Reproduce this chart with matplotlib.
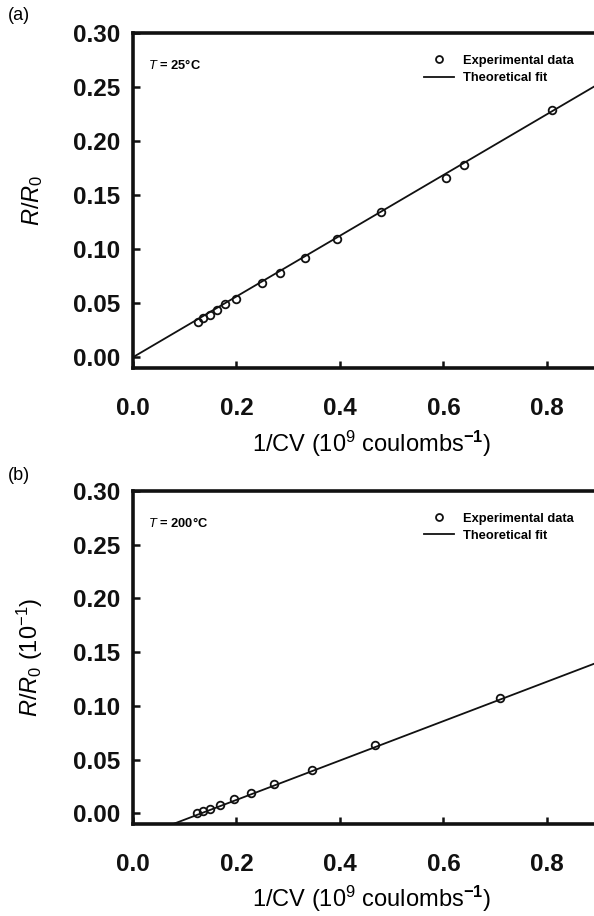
import matplotlib
matplotlib.use("Agg")
import matplotlib.pyplot as plt
from matplotlib.lines import Line2D

plt.rcParams['font.family'] = ['Liberation Sans', 'DejaVu Sans']
plt.rcParams['mathtext.fontset'] = 'custom'
plt.rcParams['mathtext.rm'] = 'Liberation Sans'
plt.rcParams['mathtext.it'] = 'Liberation Sans:italic'
plt.rcParams['mathtext.bf'] = 'Liberation Sans:bold'

# Panel (a): T = 25 °C
x_a = [0.126, 0.136, 0.149, 0.163, 0.178, 0.199, 0.249, 0.284, 0.333, 0.394,
       0.480, 0.605, 0.640, 0.810]
y_a = [0.033, 0.036, 0.039, 0.044, 0.049, 0.054, 0.069, 0.078, 0.092, 0.109,
       0.134, 0.166, 0.178, 0.229]
fit_a_x = [0.0, 0.95]
fit_a_y = [0.0, 0.267]

# Panel (b): T = 200 °C
x_b = [0.123, 0.135, 0.149, 0.168, 0.195, 0.228, 0.273, 0.345, 0.468, 0.710]
y_b = [0.000, 0.002, 0.004, 0.008, 0.013, 0.019, 0.027, 0.040, 0.064, 0.107]
fit_b_x = [0.07, 0.95]
fit_b_y = [-0.0114, 0.1500]

x_ticks = [0.0, 0.2, 0.4, 0.6, 0.8]
y_ticks = [0.00, 0.05, 0.10, 0.15, 0.20, 0.25, 0.30]

W, H = 594, 916
fig = plt.figure(figsize=(W / 100, H / 100), dpi=100)


def make_panel(rect, xs, ys, fx, fy, temp_text, ylabel, tag, tag_y):
    ax = fig.add_axes(rect)
    ax.plot(fx, fy, color='#111111', lw=1.3, zorder=2)
    ax.plot(xs, ys, linestyle='none', marker='o', ms=5.5, mfc='none',
            mec='#111111', mew=1.3, zorder=3)
    ax.set_xlim(0.0, 0.892)
    ax.set_ylim(-0.01, 0.30)
    ax.set_xticks(x_ticks)
    ax.set_yticks(y_ticks)
    ax.set_xticklabels([f"{v:.1f}" for v in x_ticks])
    ax.set_yticklabels([f"{v:.2f}" for v in y_ticks])
    for s in ('left', 'bottom', 'top'):
        ax.spines[s].set_linewidth(2.6)
        ax.spines[s].set_color('#111111')
    ax.spines['right'].set_visible(False)
    ax.tick_params(axis='both', direction='in', length=5, width=1.8,
                   colors='#111111', labelsize=17.5)
    ax.tick_params(axis='y', pad=9)
    ax.tick_params(axis='x', pad=21)
    for lab in ax.get_xticklabels() + ax.get_yticklabels():
        lab.set_fontweight('bold')
    ax.set_xlabel(r'1/CV (10$^{9}$ coulombs$^{\mathbf{-1}}$)', fontsize=17)
    ax.xaxis.set_label_coords(0.518, -0.18)
    ax.set_ylabel(ylabel, fontsize=17)
    ax.yaxis.set_label_coords(-0.19, 0.5)
    ax.text(0.033, 0.905, temp_text, transform=ax.transAxes, fontsize=9.3,
            fontweight='bold', va='center', ha='left')
    handles = [Line2D([], [], linestyle='none', marker='o', ms=5, mfc='none',
                      mec='#111111', mew=1.3),
               Line2D([], [], color='#111111', lw=1.3)]
    leg = ax.legend(handles, ['Experimental data', 'Theoretical fit'],
                    loc='upper left', bbox_to_anchor=(0.630, 0.935),
                    frameon=False, fontsize=9.3, handlelength=2.3,
                    handletextpad=0.75, labelspacing=0.4, borderpad=0,
                    borderaxespad=0)
    for t in leg.get_texts():
        t.set_fontweight('bold')
    fig.text(8 / W, tag_y, tag, fontsize=13, ha='left', va='center')
    return ax


make_panel([133 / W, (H - 368) / H, (W - 133) / W + 0.001, 335 / H],
           x_a, y_a, fit_a_x, fit_a_y, r'$\mathit{T}$ = 25°C',
           r'$\mathit{R/R}_{\mathrm{0}}$', '(a)', 1 - 15 / H)
make_panel([133 / W, (H - 824) / H, (W - 133) / W + 0.001, 333 / H],
           x_b, y_b, fit_b_x, fit_b_y, r'$\mathit{T}$ = 200°C',
           r'$\mathit{R/R}_{\mathrm{0}}$ (10$^{-1}$)', '(b)', 1 - 475 / H)

fig.savefig('out.png', dpi=100)
